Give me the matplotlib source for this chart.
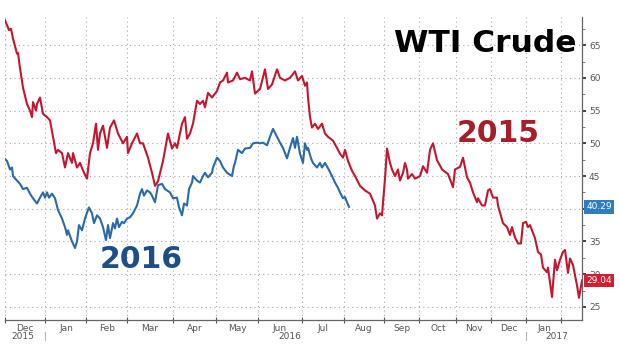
import matplotlib
matplotlib.use("Agg")
import matplotlib.pyplot as plt
from matplotlib.ticker import FixedLocator, NullFormatter, MultipleLocator

# x = trading-session position along the axis (0 = start of Dec 2015)
red_x = [0, 4, 6, 8, 12, 13, 15, 18, 22, 25, 27, 28, 31, 32, 35, 38, 42, 45, 48, 51, 53, 57, 60, 63, 67, 68,
         72, 75, 79, 82, 85, 88, 91, 93, 95, 98, 102, 105, 109, 113, 118, 122, 123, 127, 132, 135, 138,
         143, 147, 150, 153, 158, 163, 167, 170, 172, 177, 180, 182, 185, 188, 192, 195, 198, 200, 203,
         207, 212, 215, 218, 222, 223, 228, 232, 235, 240, 245, 247, 250, 255, 260, 263, 267, 272, 275,
         280, 285, 290, 293, 297, 300, 302, 303, 305, 307, 310, 313, 317, 320, 323, 328, 332, 335, 338,
         340, 343, 347, 350, 355, 360, 365, 370, 372, 375, 377, 380, 382, 385, 387, 390, 393, 395, 398,
         400, 402, 403, 407, 410, 415, 418, 422, 425, 428, 432, 435, 437, 443, 448, 450, 455, 458, 462,
         465, 468, 472, 473, 477, 480, 483, 485, 488, 492, 493, 498, 502, 505, 507, 510, 513, 516, 518,
         521, 523, 525, 527, 530, 533, 536, 538, 542, 543, 547, 550, 552, 555, 558, 560, 563, 565, 568,
         572, 574, 577]
red_y = [68.8, 67.3, 67.5, 66.0, 63.7, 63.8, 61.5, 58.5, 56.0, 55.0, 54.0, 56.3, 55.0, 56.0, 57.0, 54.5,
         54.0, 53.5, 51.0, 48.5, 49.0, 48.5, 46.3, 48.5, 47.0, 48.5, 46.3, 47.0, 45.5, 44.6, 48.5, 50.0,
         53.0, 49.0, 51.5, 52.7, 49.3, 52.4, 53.5, 51.5, 50.0, 51.0, 48.5, 50.0, 51.5, 50.0, 50.0, 47.8,
         45.5, 43.5, 44.2, 47.3, 51.5, 49.2, 50.0, 49.3, 53.0, 54.0, 50.7, 51.5, 53.0, 56.5, 56.0, 56.5,
         55.5, 57.7, 57.0, 58.0, 59.3, 59.6, 60.8, 59.3, 59.6, 60.8, 59.8, 60.0, 59.6, 61.0, 57.6, 58.3,
         61.3, 58.3, 59.0, 61.3, 60.0, 59.6, 60.0, 61.0, 59.6, 60.3, 58.8, 59.3, 57.0, 54.0, 52.4, 53.0,
         52.2, 53.0, 51.5, 51.0, 50.4, 49.3, 48.4, 47.8, 49.0, 47.3, 45.8, 45.0, 43.5, 42.8, 42.3, 40.5,
         38.5, 39.3, 39.0, 44.6, 49.2, 47.0, 46.0, 45.0, 46.0, 44.3, 45.5, 47.0, 46.0, 44.6, 45.3, 44.6,
         45.0, 46.5, 45.5, 49.0, 50.0, 47.4, 46.6, 46.0, 45.3, 43.3, 46.0, 46.4, 47.8, 44.8, 44.0, 42.5,
         41.0, 41.6, 40.5, 40.5, 42.8, 43.0, 41.7, 41.7, 40.5, 37.8, 37.2, 36.0, 37.2, 35.6, 34.7, 34.7,
         37.8, 38.0, 37.2, 37.5, 36.7, 35.5, 33.4, 33.0, 31.0, 30.3, 31.0, 26.5, 32.2, 30.6, 32.2, 33.4,
         33.7, 30.2, 32.4, 31.4, 28.3, 26.4, 29.04]

blue_x = [0, 2, 5, 7, 8, 12, 15, 18, 22, 25, 28, 32, 35, 38, 40, 42, 44, 47, 50, 53, 57, 60, 62, 63, 67,
          70, 72, 74, 77, 80, 82, 84, 87, 89, 92, 95, 98, 101, 103, 105, 108, 110, 112, 114, 117, 119,
          122, 125, 128, 132, 135, 137, 139, 142, 145, 147, 150, 153, 157, 160, 165, 168, 172, 174, 177,
          179, 182, 184, 187, 188, 192, 195, 198, 200, 203, 207, 208, 212, 215, 218, 222, 227, 229, 230,
          233, 237, 240, 245, 248, 252, 255, 258, 262, 265, 268, 272, 275, 278, 282, 285, 288, 290, 292,
          295, 298, 300, 302, 303, 306, 308, 312, 315, 317, 320, 323, 327, 330, 333, 335, 338, 340, 342,
          344]
blue_y = [47.6, 47.3, 46.0, 46.3, 45.0, 44.3, 43.8, 43.0, 43.2, 42.3, 41.6, 40.8, 41.7, 42.5, 41.7, 42.5,
          41.7, 42.3, 41.6, 39.8, 38.5, 37.2, 36.0, 36.7, 35.0, 34.0, 35.0, 37.5, 36.7, 38.5, 39.4, 40.2,
          39.3, 37.8, 39.0, 38.5, 37.2, 35.2, 37.5, 35.5, 37.8, 37.0, 38.5, 37.2, 38.0, 37.8, 38.5, 38.7,
          39.3, 40.5, 42.3, 43.0, 42.0, 42.8, 42.5, 42.0, 41.0, 43.6, 43.8, 43.0, 42.5, 41.6, 41.7, 40.2,
          39.0, 40.8, 40.5, 43.0, 44.0, 45.0, 44.3, 44.0, 45.0, 45.5, 44.8, 45.5, 46.3, 47.8, 47.3, 46.3,
          45.5, 45.0, 46.6, 47.0, 49.0, 48.5, 49.2, 49.3, 50.0, 50.1, 50.0, 50.1, 49.7, 51.0, 52.2, 51.0,
          50.1, 49.3, 47.7, 49.3, 50.8, 49.3, 51.0, 48.4, 47.0, 50.0, 49.0, 49.3, 47.7, 47.0, 46.3, 47.0,
          46.3, 47.0, 46.2, 45.0, 44.0, 43.2, 42.5, 41.6, 41.8, 41.0, 40.29]

month_bounds = [40, 81, 122, 168, 211, 253, 297, 339, 379, 414, 451, 486, 521, 556]
month_centers = [20, 61, 102, 145, 190, 232, 275, 318, 359, 397, 433, 469, 504, 539]
month_labels = ["Dec", "Jan", "Feb", "Mar", "Apr", "May", "Jun", "Jul", "Aug", "Sep", "Oct", "Nov",
                "Dec", "Jan"]
year_labels = [(18, "2015"), (285, "2016"), (552, "2017")]
year_seps = [40, 521]
y_ticks = [25, 30, 35, 40, 45, 50, 55, 60, 65]
y_ticklabels = ["25", "30", "35", "", "45", "50", "55", "60", "65"]

RED = "#c2172f"
BLUE = "#2b6aa6"
GRID = "#a8a8a8"
TXT = "#555555"

fig = plt.figure(figsize=(6.2, 3.51), dpi=100)
ax = fig.add_axes([5 / 620, 31 / 351, 577 / 620, 303 / 351])
ax.set_xlim(0, 577)
ax.set_ylim(23.0, 69.3)

ax.plot(red_x, red_y, color=RED, lw=1.5, solid_joinstyle="round", zorder=3)
ax.plot(blue_x, blue_y, color=BLUE, lw=1.5, solid_joinstyle="round", zorder=3)

# grid
for y in y_ticks:
    ax.axhline(y, color=GRID, lw=0.8, ls=(0, (1, 3)), zorder=1)
for x in [0] + month_bounds:
    ax.axvline(x, color=GRID, lw=0.8, ls=(0, (1, 3)), zorder=1)

for s in ["top", "left"]:
    ax.spines[s].set_visible(False)
ax.spines["right"].set_color("#666666")
ax.spines["bottom"].set_color("#666666")
ax.spines["right"].set_linewidth(0.9)
ax.spines["bottom"].set_linewidth(0.9)

# x axis
ax.xaxis.set_major_locator(FixedLocator([0] + month_bounds))
ax.xaxis.set_major_formatter(NullFormatter())
ax.xaxis.set_minor_locator(FixedLocator(month_centers))
ax.set_xticklabels(month_labels, minor=True)
ax.tick_params(axis="x", which="major", direction="inout", length=5, width=0.8, color="#555555")
ax.tick_params(axis="x", which="minor", length=0, labelsize=6.5, labelcolor=TXT, pad=3)

for xv, lab in year_labels:
    ax.text(xv, -0.056, lab, transform=ax.get_xaxis_transform(), ha="center", va="center",
            fontsize=6.5, color=TXT)
for xv in year_seps:
    ax.text(xv, -0.056, "|", transform=ax.get_xaxis_transform(), ha="center", va="center",
            fontsize=6.5, color="#999999")

# y axis on right
ax.yaxis.tick_right()
ax.set_yticks(y_ticks)
ax.set_yticklabels(y_ticklabels)
ax.yaxis.set_minor_locator(MultipleLocator(2.5))
ax.tick_params(axis="y", which="major", direction="out", length=3, width=1.2, color="#222222",
               labelsize=6.5, labelcolor=TXT, pad=2)
ax.tick_params(axis="y", which="minor", direction="out", length=2, width=0.6, color="#666666")

# last-value tags
ax.annotate("40.29", xy=(1.0, blue_y[-1]), xycoords=("axes fraction", "data"),
            xytext=(3, 0), textcoords="offset points", ha="left", va="center",
            fontsize=6.5, color="white",
            bbox=dict(boxstyle="square,pad=0.25", fc="#2f7cc1", ec="none"), zorder=5)
ax.annotate("29.04", xy=(1.0, red_y[-1]), xycoords=("axes fraction", "data"),
            xytext=(3, 0), textcoords="offset points", ha="left", va="center",
            fontsize=6.5, color="white",
            bbox=dict(boxstyle="square,pad=0.25", fc="#d01f32", ec="none"), zorder=5)

# titles
fig.text(577 / 620, 1 - 52 / 351, "WTI Crude", ha="right", va="baseline",
         fontsize=22.5, fontweight="bold", color="black")
fig.text(498 / 620, 1 - 142 / 351, "2015", ha="center", va="baseline",
         fontsize=21.5, fontweight="bold", color="#a51e2a")
fig.text(141 / 620, 1 - 268 / 351, "2016", ha="center", va="baseline",
         fontsize=21.5, fontweight="bold", color="#1d4e89")

fig.savefig("out.png", dpi=100)
